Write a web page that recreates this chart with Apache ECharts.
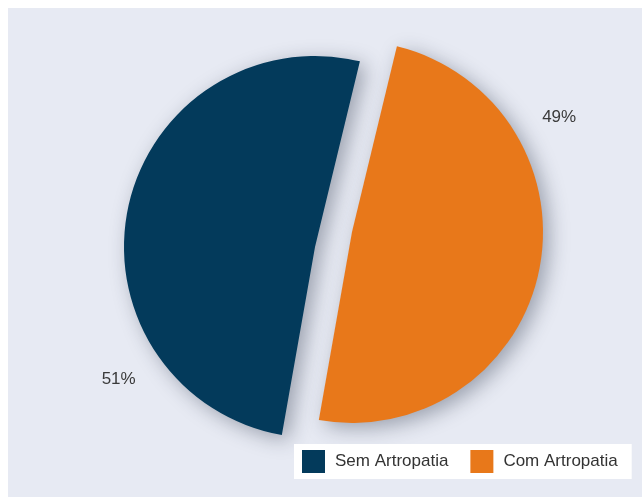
<!DOCTYPE html>
<html>
<head>
<meta charset="utf-8">
<script src="https://cdn.jsdelivr.net/npm/echarts@6/dist/echarts.min.js"></script>
<style>
html,body{margin:0;padding:0;background:#ffffff;}
#chart{width:642px;height:497px;}
</style>
</head>
<body>
<div id="chart"></div>
<script>
// ---- data ----
const categories = ['Sem Artropatia', 'Com Artropatia'];
const values = [51, 49];
const colors = ['#033a5b', '#e8781a'];

// ---- layout ----
const radius = 191;
const centers = [[315, 247], [352, 232]];   // navy slice, orange slice (exploded)
const labelAngles = [236, 61];               // degrees clockwise from 12 o'clock
const labelDist = 1.24;

const chart = echarts.init(document.getElementById('chart'), null, {renderer: 'canvas'});

function makeSeries(idx) {
  return {
    type: 'pie',
    name: categories[idx],
    center: centers[idx],
    radius: radius,
    startAngle: -100,
    clockwise: true,
    avoidLabelOverlap: false,
    silent: true,
    z: 2,
    data: categories.map((c, i) => ({
      name: c,
      value: values[i],
      itemStyle: i === idx ? {
        color: colors[i],
        shadowBlur: 20,
        shadowColor: 'rgba(40,50,70,0.4)',
        shadowOffsetX: 6,
        shadowOffsetY: 5
      } : {color: 'rgba(0,0,0,0)'},
      label: {show: i === idx},
      labelLine: {show: false}
    })),
    label: {
      position: 'outside',
      formatter: '{d}%',
      fontFamily: 'Liberation Sans, Arial, sans-serif',
      fontSize: 17,
      color: '#3a3a3a'
    },
    labelLine: {show: false},
    labelLayout: function (p) {
      const a = labelAngles[idx] * Math.PI / 180;
      const r = radius * labelDist;
      return {
        x: centers[idx][0] + r * Math.sin(a),
        y: centers[idx][1] - r * Math.cos(a),
        align: 'center',
        verticalAlign: 'middle'
      };
    },
    emphasis: {disabled: true}
  };
}

chart.setOption({
  animation: false,
  backgroundColor: '#ffffff',
  graphic: [{
    type: 'rect',
    z: -10,
    shape: {x: 8, y: 8, width: 634, height: 489},
    style: {fill: '#e7eaf3'}
  }],
  legend: {
    left: 294,
    top: 444,
    backgroundColor: '#ffffff',
    padding: [6, 14, 6, 8],
    itemWidth: 23,
    itemHeight: 23,
    itemGap: 22,
    icon: 'rect',
    selectedMode: false,
    data: categories.map((c, i) => ({name: c, itemStyle: {color: colors[i]}})),
    textStyle: {
      fontFamily: 'Liberation Sans, Arial, sans-serif',
      fontSize: 17,
      color: '#333333',
      padding: [0, 0, 0, 5]
    }
  },
  series: [makeSeries(0), makeSeries(1)]
});
</script>
</body>
</html>
